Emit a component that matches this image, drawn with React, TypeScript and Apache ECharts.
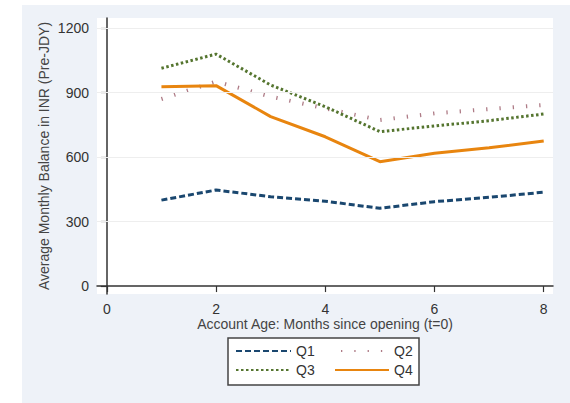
import React, { useEffect, useRef } from "react";
import * as echarts from "echarts";

const months = [1, 2, 3, 4, 5, 6, 7, 8];
const q1 = [400, 447, 416, 395, 362, 393, 413, 437];
const q2 = [871, 952, 882, 827, 773, 804, 824, 843];
const q3 = [1014, 1080, 936, 835, 719, 745, 770, 801];
const q4 = [928, 933, 789, 695, 579, 618, 644, 675];
const yTicks = [0, 300, 600, 900, 1200];
const xTicks = [0, 2, 4, 6, 8];
const gridValues = [300, 600, 900, 1200];

const FONT = "'Liberation Sans', Arial, sans-serif";

export default function App() {
  const ref = useRef<HTMLDivElement>(null);
  useEffect(() => {
    if (!ref.current) return;
    const chart = echarts.init(ref.current, undefined, { renderer: "svg" });
    const pair = (arr: number[]) => months.map((m, i) => [m, arr[i]]);
    const legendBase = {
      orient: "horizontal",
      itemHeight: 10,
      itemStyle: { opacity: 0, color: "transparent", borderWidth: 0 },
      textStyle: { fontFamily: FONT, fontSize: 14, color: "#333" },
      selectedMode: false,
      padding: 0,
    };
    chart.setOption({
      animation: false,
      backgroundColor: "#ffffff",
      graphic: [
        {
          type: "rect",
          z: -10,
          shape: { x: 22, y: 5, width: 548, height: 398 },
          style: { fill: "#eef2f8" },
          silent: true,
        },
        {
          type: "rect",
          z: 1,
          shape: { x: 228, y: 338, width: 191, height: 47 },
          style: { fill: "#ffffff", stroke: "#444", lineWidth: 1.5 },
          silent: true,
        },
      ],
      grid: {
        left: 97,
        right: 17,
        top: 18,
        bottom: 109,
        show: true,
        backgroundColor: "#ffffff",
        borderWidth: 0,
      },
      xAxis: {
        type: "value",
        min: -0.18,
        max: 8.17,
        name: "Account Age: Months since opening (t=0)",
        nameLocation: "middle",
        nameGap: 23,
        nameMoveOverlap: false,
        nameTextStyle: { fontFamily: FONT, fontSize: 14, color: "#444" },
        axisLine: { show: true, lineStyle: { color: "#333", width: 1.5 } },
        axisTick: { show: true, length: 6, customValues: xTicks, lineStyle: { color: "#333", width: 1.2 } },
        axisLabel: { customValues: xTicks, margin: 8, fontFamily: FONT, fontSize: 14, color: "#333" },
        splitLine: { show: false },
      },
      yAxis: {
        type: "value",
        min: -37,
        max: 1248,
        name: "Average Monthly Balance in INR (Pre-JDY)",
        nameLocation: "middle",
        nameGap: 46,
        nameMoveOverlap: false,
        nameTextStyle: { fontFamily: FONT, fontSize: 14, color: "#444" },
        axisLine: { show: true, lineStyle: { color: "#333", width: 1.5 } },
        axisTick: { show: true, length: 6, customValues: yTicks, lineStyle: { color: "#333", width: 1.2 } },
        axisLabel: {
          customValues: yTicks,
          margin: 8,
          fontFamily: FONT,
          fontSize: 14,
          color: "#333",
          formatter: (v: number) => String(v),
        },
        splitLine: { show: false },
      },
      legend: [
        { ...legendBase, data: ["Q1"], left: 235, top: 344, itemWidth: 55 },
        { ...legendBase, data: ["Q2"], left: 340, top: 344, itemWidth: 48 },
        { ...legendBase, data: ["Q3"], left: 235, top: 363, itemWidth: 55 },
        { ...legendBase, data: ["Q4"], left: 334, top: 363, itemWidth: 54 },
      ],
      series: [
        {
          name: "grid",
          type: "line",
          data: [],
          silent: true,
          markLine: {
            silent: true,
            symbol: "none",
            label: { show: false },
            lineStyle: { color: "#eeeeee", width: 1, type: "solid" },
            data: gridValues.map((v) => ({ yAxis: v })),
          },
        },
        {
          name: "Q1",
          type: "line",
          data: pair(q1),
          showSymbol: false,
          symbol: "none",
          lineStyle: { color: "#1a476f", width: 3, type: [6, 3] },
          itemStyle: { color: "#1a476f" },
          z: 3,
        },
        {
          name: "Q2",
          type: "line",
          data: pair(q2),
          showSymbol: false,
          symbol: "none",
          lineStyle: { color: "#9a5a68", width: 4, type: [1.3, 12], opacity: 0.8 },
          itemStyle: { color: "#9a5a68" },
          z: 3,
        },
        {
          name: "Q3",
          type: "line",
          data: pair(q3),
          showSymbol: false,
          symbol: "none",
          lineStyle: { color: "#55752f", width: 3, type: [2.5, 2.5] },
          itemStyle: { color: "#55752f" },
          z: 3,
        },
        {
          name: "Q4",
          type: "line",
          data: pair(q4),
          showSymbol: false,
          symbol: "none",
          lineStyle: { color: "#e8850f", width: 3 },
          itemStyle: { color: "#e8850f" },
          z: 3,
        },
      ],
    });
    return () => chart.dispose();
  }, []);
  return (
    <div
      ref={ref}
      style={{ position: "fixed", left: 0, top: 0, width: 570, height: 403 }}
    />
  );
}
